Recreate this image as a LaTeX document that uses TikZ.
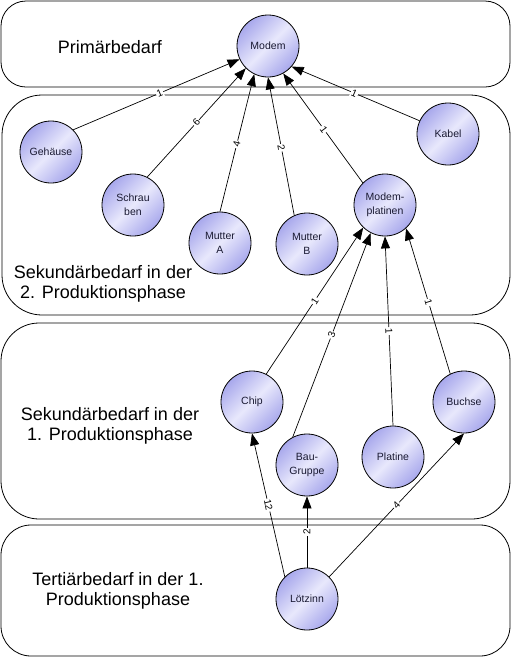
\documentclass[tikz,border=0pt]{standalone}
\usepackage{fontspec}
\setmainfont{Liberation Sans}
\usetikzlibrary{arrows.meta}
\definecolor{ballouter}{RGB}{168,168,236}
\definecolor{ballinner}{RGB}{232,232,252}
\definecolor{balltext}{RGB}{25,25,50}
\tikzset{
  phasebox/.style={draw=black, line width=0.8pt},
  phasetext/.style={font=\fontsize{18}{20.5}\selectfont, align=center, inner sep=0pt},
  part/.style={circle, draw=black, line width=0.8pt, minimum size=62pt, inner sep=0pt,
    top color=ballouter, bottom color=ballouter, middle color=ballinner, shading angle=45,
    font=\fontsize{10.5}{14}\selectfont, text=balltext, align=center},
  need/.style={draw=black, line width=0.7pt, -{Triangle[length=12pt,width=9pt]}},
  qty/.style={sloped, fill=white, inner sep=1pt, font=\fontsize{10}{11}\selectfont}
}
\begin{document}
\begin{tikzpicture}[x=1pt, y=-1pt]
\useasboundingbox (0,0) rectangle (511,657);
% phase boxes
\draw[phasebox, rounded corners=25pt] (1,1) rectangle (510,87);
\draw[phasebox, rounded corners=40pt] (2,95) rectangle (510,315);
\draw[phasebox, rounded corners=38pt] (1,323) rectangle (510,519);
\draw[phasebox, rounded corners=30pt] (1,525) rectangle (510,656);
% phase labels
\node[phasetext] (t1) at (110,47) {Primärbedarf};
\node[phasetext] (t2) at (103,284) {Sekundärbedarf in der\\2. Produktionsphase};
\node[phasetext] (t3) at (110,426) {Sekundärbedarf in der\\1. Produktionsphase};
\node[phasetext] (t4) at (118,591) {Tertiärbedarf in der 1.\\Produktionsphase};
% parts
\node[part] (modem) at (268,46) {Modem};
\node[part] (gehaeuse) at (51,152) {Gehäuse};
\node[part] (schrauben) at (133,205) {Schrau\\ben};
\node[part] (muttera) at (220,243) {Mutter\\A};
\node[part] (mutterb) at (307,244) {Mutter\\B};
\node[part] (platinen) at (385,205) {Modem-\\platinen};
\node[part] (kabel) at (448,134) {Kabel};
\node[part] (chip) at (252,402) {Chip};
\node[part] (baugruppe) at (307,465) {Bau-\\Gruppe};
\node[part] (platine) at (393,457) {Platine};
\node[part] (buchse) at (464,402) {Buchse};
\node[part] (loetzinn) at (307,599) {Lötzinn};
% connectors
\draw[need] (gehaeuse.45) -- node[qty, pos=0.52] {1} (modem.205);
\draw[need] (schrauben.63) -- node[qty, pos=0.5] {6} (modem.225);
\draw[need] (muttera.90) -- node[qty, pos=0.49] {4} (modem.244);
\draw[need] (mutterb.114) -- node[qty, pos=0.49] {2} (modem.270);
\draw[need] (platinen.135) -- node[qty, pos=0.49] {1} (modem.299);
\draw[need] (kabel.155) -- node[qty, pos=0.51] {1} (modem.319);
\draw[need] (chip.63) -- node[qty, pos=0.5] {1} (platinen.226);
\draw[need] (baugruppe.117) -- node[qty, pos=0.5] {3} (platinen.243);
\draw[need] (platine.90) -- node[qty, pos=0.5] {1} (platinen.270);
\draw[need] (buchse.116) -- node[qty, pos=0.49] {1} (platinen.312);
\draw[need] (loetzinn.135) -- node[qty, pos=0.5] {12} (chip.270);
\draw[need] (loetzinn.90) -- node[qty, pos=0.5] {2} (baugruppe.270);
\draw[need] (loetzinn.45) -- node[qty, pos=0.5] {4} (buchse.270);
\end{tikzpicture}
\end{document}
